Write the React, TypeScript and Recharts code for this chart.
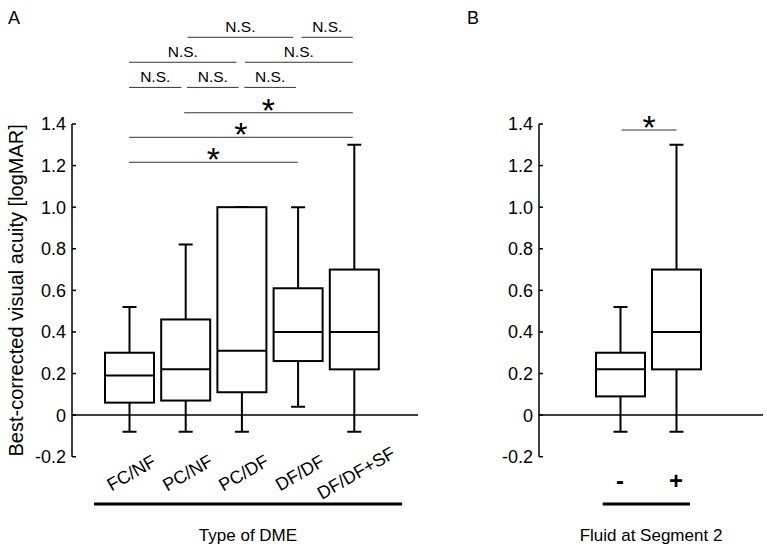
import React from 'react';
import { ComposedChart, Bar, XAxis, YAxis, ReferenceLine } from 'recharts';

// ---- Panel A data: Type of DME ----
const dmeTypes = ['FC/NF', 'PC/NF', 'PC/DF', 'DF/DF', 'DF/DF+SF'];
const dmeMin = [-0.08, -0.08, -0.08, 0.04, -0.08];
const dmeQ1 = [0.06, 0.07, 0.11, 0.26, 0.22];
const dmeMedian = [0.19, 0.22, 0.31, 0.4, 0.4];
const dmeQ3 = [0.3, 0.46, 1.0, 0.61, 0.7];
const dmeMax = [0.52, 0.82, 1.0, 1.0, 1.3];

// ---- Panel B data: Fluid at Segment 2 ----
const fluidGroups = ['-', '+'];
const fluidMin = [-0.08, -0.08];
const fluidQ1 = [0.09, 0.22];
const fluidMedian = [0.22, 0.4];
const fluidQ3 = [0.3, 0.7];
const fluidMax = [0.52, 1.3];

const yTicks = [-0.2, 0, 0.2, 0.4, 0.6, 0.8, 1.0, 1.2, 1.4];

// significance brackets (x in category positions 1..n, level in y units)
const dmeSigFrom = [2.04, 4.07, 1.0, 3.06, 1.0, 2.03, 3.05, 1.98, 1.0, 1.0];
const dmeSigTo = [3.92, 4.98, 2.91, 4.98, 1.93, 2.95, 3.97, 4.98, 4.98, 4.0];
const dmeSigLevel = [1.817, 1.817, 1.697, 1.697, 1.576, 1.576, 1.576, 1.454, 1.336, 1.216];
const dmeSigText = ['N.S.', 'N.S.', 'N.S.', 'N.S.', 'N.S.', 'N.S.', 'N.S.', '*', '*', '*'];

const fluidSigFrom = [1.03];
const fluidSigTo = [2.01];
const fluidSigLevel = [1.371];
const fluidSigText = ['*'];

const groupLineLevel = -0.4275;
const dmeGroupLine = [0.377, 5.858];
const fluidGroupLine = [0.691, 2.25];

const FONT = '"Liberation Sans", Arial, Helvetica, sans-serif';

const dmeData = dmeTypes.map((name, i) => ({
  name,
  pos: i + 1,
  min: dmeMin[i],
  q1: dmeQ1[i],
  median: dmeMedian[i],
  q3: dmeQ3[i],
  max: dmeMax[i],
}));

const fluidData = fluidGroups.map((name, i) => ({
  name,
  pos: i + 1,
  min: fluidMin[i],
  q1: fluidQ1[i],
  median: fluidMedian[i],
  q3: fluidQ3[i],
  max: fluidMax[i],
}));

const BoxShape = (props: any) => {
  const { x, y, width, height, payload } = props;
  if (!payload || height == null) return null;
  const { min, q1, median, q3, max } = payload;
  const span = max - min;
  const py = (v: number) => y + (height * (max - v)) / span;
  const cx = x + width / 2;
  const cap = 14;
  const top = py(q3);
  const bot = py(q1);
  return (
    <g stroke="#000" strokeWidth={2} fill="none">
      <line x1={cx} x2={cx} y1={py(max)} y2={top} />
      <line x1={cx - cap / 2} x2={cx + cap / 2} y1={py(max)} y2={py(max)} />
      <line x1={cx} x2={cx} y1={bot} y2={py(min)} />
      <line x1={cx - cap / 2} x2={cx + cap / 2} y1={py(min)} y2={py(min)} />
      <rect x={x} y={top} width={width} height={Math.max(bot - top, 0)} fill="#fff" />
      <line x1={x} x2={x + width} y1={py(median)} y2={py(median)} />
    </g>
  );
};

const fmt = (v: number) => (Math.abs(v) < 1e-9 ? '0' : v.toFixed(1));

const YTick = (props: any) => {
  const { x, y, payload } = props;
  return (
    <g>
      <line x1={x} x2={x + 4} y1={y} y2={y} stroke="#000" strokeWidth={1.5} />
      <text x={x - 6} y={y} dy="0.36em" textAnchor="end" fontSize={18} fill="#000" fontFamily={FONT}>
        {fmt(payload.value)}
      </text>
    </g>
  );
};

const DmeTick = (props: any) => {
  const { x, y, payload } = props;
  const tx = x + 2;
  const ty = y + 16;
  return (
    <text
      x={tx}
      y={ty}
      dy="0.36em"
      textAnchor="middle"
      transform={`rotate(-30 ${tx} ${ty})`}
      fontSize={18}
      fill="#000"
      fontFamily={FONT}
    >
      {payload.value}
    </text>
  );
};

const FluidTick = (props: any) => {
  const { x, y, payload } = props;
  return (
    <text x={x} y={y + 32.5} textAnchor="middle" fontSize={24} fontWeight="bold" fill="#000" fontFamily={FONT}>
      {payload.value}
    </text>
  );
};

const renderYTitle = (props: any) => {
  const vb = props.viewBox || { x: 0, y: 0, width: 0, height: 0 };
  const tx = vb.x + 23;
  const cy = vb.y + vb.height / 2;
  return (
    <text
      x={tx}
      y={cy}
      textAnchor="middle"
      transform={`rotate(-90 ${tx} ${cy})`}
      fontSize={20}
      fill="#000"
      fontFamily={FONT}
    >
      Best-corrected visual acuity [logMAR]
    </text>
  );
};

const sigLines = (from: number[], to: number[], level: number[], text: string[]) =>
  from.map((f, i) => {
    const star = text[i] === '*';
    return (
      <ReferenceLine
        key={`sig-${i}`}
        xAxisId="pos"
        segment={[
          { x: f, y: level[i] },
          { x: to[i], y: level[i] },
        ]}
        ifOverflow="visible"
        stroke="#333"
        strokeWidth={1}
        label={{
          value: text[i],
          position: 'top',
          offset: star ? -9 : 5.5,
          fontSize: star ? 34 : 15.5,
          fill: '#000',
          fontFamily: FONT,
        }}
      />
    );
  });

const chartH = 550;
const marginTop = 124;
const xAxisH = 93.3;

// band layout: padding to the band edges, half-band added for centre-aligned position axis
const dmePad = { left: 29, right: 36 };
const dmeHalfBand = 28.1;
const fluidPad = { left: 53, right: 59 };
const fluidHalfBand = 28;

export default function App() {
  return (
    <div style={{ position: 'absolute', left: 0, top: 0, width: 767, height: 550, background: '#fff', fontFamily: FONT }}>
      <div style={{ position: 'absolute', left: 0, top: 0 }}>
        <ComposedChart width={480} height={chartH} data={dmeData} margin={{ top: marginTop, right: 62, bottom: 0, left: 0 }}>
          <XAxis
            dataKey="name"
            type="category"
            height={xAxisH}
            padding={dmePad}
            axisLine={false}
            tickLine={false}
            tickSize={0}
            tickMargin={0}
            tick={<DmeTick />}
            interval={0}
            label={{ value: 'Type of DME', position: 'insideBottom', offset: 9, dx: 3, fontSize: 17, fill: '#000', fontFamily: FONT }}
          />
          <XAxis
            xAxisId="pos"
            dataKey="pos"
            type="number"
            domain={[1, dmeTypes.length]}
            allowDataOverflow
            padding={{ left: dmePad.left + dmeHalfBand, right: dmePad.right + dmeHalfBand }}
            hide
          />
          <YAxis
            type="number"
            domain={[-0.2, 1.4]}
            ticks={yTicks}
            width={72}
            allowDataOverflow
            axisLine={{ stroke: '#000', strokeWidth: 1.5 }}
            tickLine={false}
            tickSize={0}
            tickMargin={0}
            tick={<YTick />}
            interval={0}
            label={renderYTitle}
          />
          <ReferenceLine y={0} stroke="#000" strokeWidth={1.5} />
          <Bar dataKey={(d: any) => [d.min, d.max]} barSize={49} shape={<BoxShape />} isAnimationActive={false} />
          {sigLines(dmeSigFrom, dmeSigTo, dmeSigLevel, dmeSigText)}
          <ReferenceLine
            xAxisId="pos"
            segment={[
              { x: dmeGroupLine[0], y: groupLineLevel },
              { x: dmeGroupLine[1], y: groupLineLevel },
            ]}
            ifOverflow="visible"
            stroke="#000"
            strokeWidth={3}
          />
        </ComposedChart>
      </div>
      <div style={{ position: 'absolute', left: 480, top: 0 }}>
        <ComposedChart width={287} height={chartH} data={fluidData} margin={{ top: marginTop, right: 4, bottom: 0, left: 0 }}>
          <XAxis
            dataKey="name"
            type="category"
            height={xAxisH}
            padding={fluidPad}
            axisLine={false}
            tickLine={false}
            tickSize={0}
            tickMargin={0}
            tick={<FluidTick />}
            interval={0}
            label={{ value: 'Fluid at Segment 2', position: 'insideBottom', offset: 9, dx: 0, fontSize: 17, fill: '#000', fontFamily: FONT }}
          />
          <XAxis
            xAxisId="pos"
            dataKey="pos"
            type="number"
            domain={[1, fluidGroups.length]}
            allowDataOverflow
            padding={{ left: fluidPad.left + fluidHalfBand, right: fluidPad.right + fluidHalfBand }}
            hide
          />
          <YAxis
            type="number"
            domain={[-0.2, 1.4]}
            ticks={yTicks}
            width={59}
            allowDataOverflow
            axisLine={{ stroke: '#000', strokeWidth: 1.5 }}
            tickLine={false}
            tickSize={0}
            tickMargin={0}
            tick={<YTick />}
            interval={0}
          />
          <ReferenceLine y={0} stroke="#000" strokeWidth={1.5} />
          <Bar dataKey={(d: any) => [d.min, d.max]} barSize={49} shape={<BoxShape />} isAnimationActive={false} />
          {sigLines(fluidSigFrom, fluidSigTo, fluidSigLevel, fluidSigText)}
          <ReferenceLine
            xAxisId="pos"
            segment={[
              { x: fluidGroupLine[0], y: groupLineLevel },
              { x: fluidGroupLine[1], y: groupLineLevel },
            ]}
            ifOverflow="visible"
            stroke="#000"
            strokeWidth={3}
          />
        </ComposedChart>
      </div>
      <svg width={767} height={550} style={{ position: 'absolute', left: 0, top: 0, pointerEvents: 'none' }}>
        <text x={8} y={24} fontSize={18} fill="#000" fontFamily={FONT}>A</text>
        <text x={467} y={24} fontSize={18} fill="#000" fontFamily={FONT}>B</text>
      </svg>
    </div>
  );
}
